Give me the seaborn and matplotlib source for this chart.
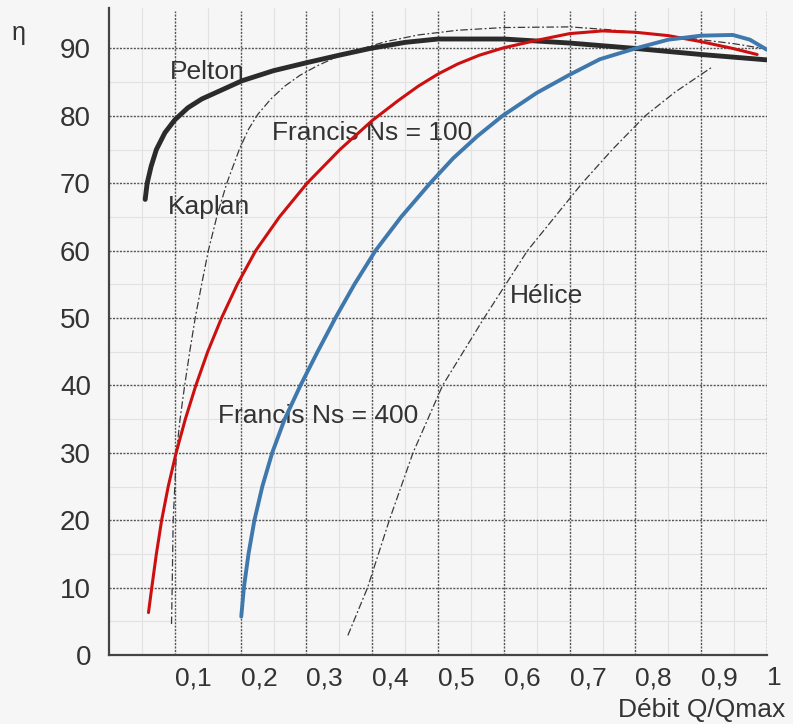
import numpy as np
import pandas as pd
import matplotlib
matplotlib.use("Agg")
import matplotlib.pyplot as plt
import seaborn as sns

# --- curve readings (Q/Qmax, efficiency %) ---
pelton_x = [0.055, 0.058, 0.064, 0.072, 0.085, 0.100, 0.120, 0.141, 0.175, 0.202, 0.25,
            0.301, 0.35, 0.397, 0.45, 0.5, 0.6, 0.7, 0.8, 0.9, 1.0]
pelton_y = [67.6, 70.0, 72.5, 75.0, 77.5, 79.4, 81.2, 82.5, 84.0, 85.2, 86.7,
            87.9, 89.0, 90.0, 90.9, 91.4, 91.4, 90.8, 90.0, 89.1, 88.3]

kaplan_x = [0.095, 0.096, 0.0975, 0.1025, 0.108, 0.115, 0.123, 0.131, 0.141, 0.151, 0.164,
            0.179, 0.198, 0.212, 0.226, 0.246, 0.267, 0.29, 0.316, 0.345, 0.375, 0.42, 0.47,
            0.53, 0.6, 0.7, 0.757, 0.8, 0.85, 0.9, 0.95, 1.0]
kaplan_y = [4.6, 10.0, 20.0, 30.0, 35.0, 40.0, 45.2, 50.0, 55.1, 60.0, 65.1,
            70.0, 75.0, 78.0, 80.2, 82.5, 84.4, 86.0, 87.4, 88.7, 89.7, 91.0, 92.0,
            92.7, 93.1, 93.2, 92.8, 92.4, 91.9, 91.3, 90.7, 89.9]

francis100_x = [0.060, 0.065, 0.072, 0.080, 0.090, 0.102, 0.116, 0.132, 0.150, 0.171, 0.195,
                0.223, 0.259, 0.301, 0.351, 0.40, 0.44, 0.47, 0.5, 0.53, 0.563, 0.6, 0.65,
                0.7, 0.75, 0.8, 0.85, 0.9, 0.948, 0.985]
francis100_y = [6.3, 10.0, 15.0, 20.0, 25.0, 30.0, 35.0, 40.0, 45.0, 50.0, 55.0,
                60.0, 65.0, 70.0, 75.0, 79.3, 82.3, 84.4, 86.2, 87.7, 89.0, 90.1, 91.2,
                92.2, 92.6, 92.4, 91.9, 91.0, 90.0, 89.1]

francis400_x = [0.201, 0.205, 0.212, 0.221, 0.233, 0.248, 0.267, 0.291, 0.317, 0.344, 0.373,
                0.405, 0.444, 0.488, 0.523, 0.56, 0.598, 0.65, 0.70, 0.746, 0.80, 0.85,
                0.90, 0.948, 0.974, 1.0]
francis400_y = [5.7, 10.0, 15.0, 20.0, 25.0, 30.0, 35.0, 40.0, 45.0, 50.0, 55.0,
                60.0, 65.0, 70.0, 73.7, 77.0, 80.0, 83.4, 86.1, 88.4, 90.0, 91.3,
                91.9, 92.0, 91.3, 89.8]

helice_x = [0.363, 0.393, 0.426, 0.462, 0.507, 0.570, 0.636, 0.719, 0.765, 0.815, 0.86, 0.916]
helice_y = [2.9, 10.0, 20.0, 30.0, 40.0, 50.0, 60.0, 70.0, 75.0, 80.0, 83.5, 87.2]

x_ticks = [0.1, 0.2, 0.3, 0.4, 0.5, 0.6, 0.7, 0.8, 0.9, 1.0]
x_tick_labels = ["0,1", "0,2", "0,3", "0,4", "0,5", "0,6", "0,7", "0,8", "0,9", "1"]
y_ticks = [0, 10, 20, 30, 40, 50, 60, 70, 80, 90]

sns.set_theme(style="white")
plt.rcParams['font.family'] = ['Liberation Sans', 'DejaVu Sans']

bg = '#f6f6f6'
fig = plt.figure(figsize=(7.93, 7.24), dpi=100, facecolor=bg)
ax = fig.add_axes([109 / 793, 69 / 724, 658 / 793, 647 / 724])
ax.set_facecolor(bg)

# faint graph paper + dotted main grid
for v in np.arange(0.05, 1.0, 0.1):
    ax.axvline(v, color='#e2e2e2', lw=0.8, zorder=0)
for v in np.arange(5, 95, 10):
    ax.axhline(v, color='#e2e2e2', lw=0.8, zorder=0)
for v in x_ticks:
    ax.plot([v, v], [0, 95.5], color='#555555', lw=1.0, ls=(0, (1.5, 1)), zorder=1)
for v in y_ticks[1:]:
    ax.plot([0, 1.0], [v, v], color='#555555', lw=1.0, ls=(0, (1.5, 1)), zorder=1)

thin = dict(color='#3a3a3a', lw=0.9, linestyle=(0, (6, 2, 1.5, 2)), zorder=2)
sns.lineplot(data=pd.DataFrame({'x': kaplan_x, 'y': kaplan_y}), x='x', y='y', ax=ax, **thin)
sns.lineplot(data=pd.DataFrame({'x': helice_x, 'y': helice_y}), x='x', y='y', ax=ax, **thin)
sns.lineplot(data=pd.DataFrame({'x': pelton_x, 'y': pelton_y}), x='x', y='y', ax=ax,
             color='#2b2b2b', lw=3.5, zorder=3)
sns.lineplot(data=pd.DataFrame({'x': francis100_x, 'y': francis100_y}), x='x', y='y', ax=ax,
             color='#cc1010', lw=2.2, zorder=4)
sns.lineplot(data=pd.DataFrame({'x': francis400_x, 'y': francis400_y}), x='x', y='y', ax=ax,
             color='#3f78ad', lw=2.8, zorder=4)

ax.set_xlim(0, 1.0)
ax.set_ylim(0, 96)
ax.set_xlabel('')
ax.set_ylabel('')
ax.set_xticks(x_ticks)
ax.set_xticklabels(x_tick_labels, ha='left')
ax.set_yticks(y_ticks)
ax.tick_params(axis='both', length=0, colors='#333333')
ax.tick_params(axis='y', pad=13, labelsize=20)
ax.tick_params(axis='x', pad=8, labelsize=19)
for s in ['top', 'right']:
    ax.spines[s].set_visible(False)
for s in ['left', 'bottom']:
    ax.spines[s].set_color('#444444')
    ax.spines[s].set_linewidth(1.6)

lab = dict(fontsize=19, color='#333333', va='baseline')
ax.text(0.093, 85.4, 'Pelton', **lab)
ax.text(0.090, 65.5, 'Kaplan', **lab)
ax.text(0.248, 76.4, 'Francis Ns = 100', **lab)
ax.text(0.166, 34.4, 'Francis Ns = 400', **lab)
ax.text(0.609, 52.2, 'Hélice', **lab)

fig.text(0.015, 0.955, 'η', fontsize=18, color='#333333', va='center')
fig.text(0.99, 0.019, 'Débit Q/Qmax', fontsize=19, color='#333333', ha='right', va='center')

fig.savefig('out.png', dpi=100, facecolor=bg)
